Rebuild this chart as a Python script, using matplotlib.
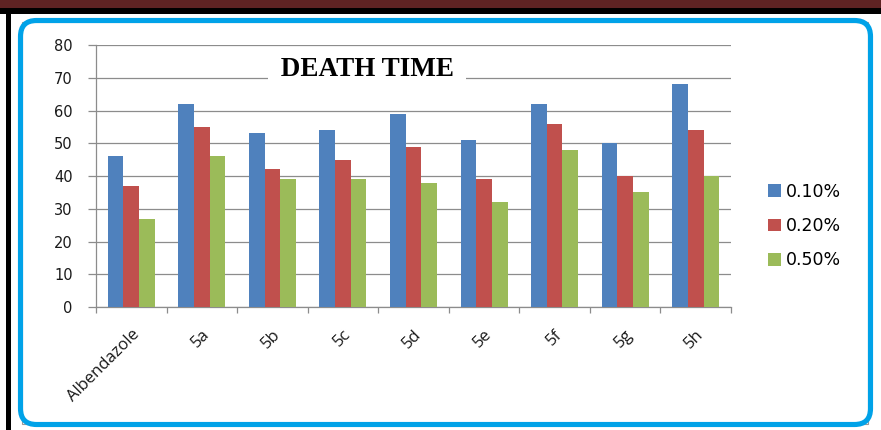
import numpy as np
from matplotlib import pyplot as plt
from matplotlib.patches import FancyBboxPatch, Rectangle
from matplotlib.transforms import ScaledTranslation

compounds = ["Albendazole", "5a", "5b", "5c", "5d", "5e", "5f", "5g", "5h"]
series_names = ["0.10%", "0.20%", "0.50%"]
conc_010 = [46, 62, 53, 54, 59, 51, 62, 50, 68]
conc_020 = [37, 55, 42, 45, 49, 39, 56, 40, 54]
conc_050 = [27, 46, 39, 39, 38, 32, 48, 35, 40]
series_colors = ["#4F81BD", "#C0504D", "#9BBB59"]
y_ticks = [0, 10, 20, 30, 40, 50, 60, 70, 80]

W, H = 881, 430
fig = plt.figure(figsize=(W / 100, H / 100), dpi=100)

# page decoration: banner, black rule, blue rounded frame
deco = fig.add_axes([0, 0, 1, 1], zorder=-1)
deco.set_xlim(0, W)
deco.set_ylim(H, 0)
deco.axis("off")
deco.add_patch(Rectangle((0, 0), W, 7.5, color="#5E2323", lw=0))
deco.add_patch(Rectangle((0, 8), W, 5.5, color="black", lw=0))
deco.add_patch(Rectangle((6, 8), 4.5, H - 8, color="black", lw=0))
deco.add_patch(Rectangle((22, 22), 846, 402, fill=False, ec="#999999", lw=0.8))
deco.add_patch(FancyBboxPatch((20.5, 20.5), 850, 404,
                              boxstyle="round,pad=0,rounding_size=16",
                              fill=False, ec="#00A2E8", lw=3.7))

ax = fig.add_axes([96 / W, 1 - 307 / H, 635 / W, 262 / H])
x = np.arange(len(compounds))
bw = 1 / 4.5
for i, (vals, name, col) in enumerate(zip([conc_010, conc_020, conc_050],
                                          series_names, series_colors)):
    ax.bar(x + (i - 1) * bw, vals, width=bw, color=col, label=name, zorder=3)

ax.set_xlim(-0.5, len(compounds) - 0.5)
ax.set_ylim(0, 80)
ax.set_yticks(y_ticks)
ax.set_yticklabels([str(v) for v in y_ticks], fontsize=10.5, color="#1a1a1a",
                   family="DejaVu Sans")
ax.yaxis.grid(True, color="#8c8c8c", lw=0.9, zorder=0)
ax.tick_params(axis="y", length=8 * 0.72, width=0.9, color="#8c8c8c", pad=11)

ax.set_xticks(np.arange(len(compounds) + 1) - 0.5)
ax.set_xticklabels([])
ax.tick_params(axis="x", which="major", length=4.5, width=0.9, color="#8c8c8c")
ax.set_xticks(x, minor=True)
labels = ax.set_xticklabels(compounds, minor=True, rotation=45, ha="right",
                            rotation_mode="anchor", fontsize=12,
                            family="Open Sans", color="#1a1a1a")
shift = ScaledTranslation(-5 / 100, 0, fig.dpi_scale_trans)
for lab in labels:
    lab.set_transform(lab.get_transform() + shift)
ax.tick_params(axis="x", which="minor", length=0, pad=14)

for side in ["top", "right"]:
    ax.spines[side].set_visible(False)
for side in ["left", "bottom"]:
    ax.spines[side].set_color("#8c8c8c")
    ax.spines[side].set_linewidth(0.9)

# title sits on a white patch that breaks the 70 gridline
fig.text(367 / W, 1 - 69 / H, " DEATH TIME ", ha="center", va="center",
         fontsize=19.5, fontweight="bold", family="Liberation Serif",
         color="black",
         bbox=dict(boxstyle="square,pad=0.2", fc="white", ec="none"))

fig.legend(loc="center left", bbox_to_anchor=(768 / W, 1 - 226 / H),
           frameon=False, fontsize=12.5, handlelength=0.75, handleheight=0.75,
           handletextpad=0.3, labelspacing=0.95, borderpad=0, borderaxespad=0)

fig.savefig("out.png", dpi=100)
